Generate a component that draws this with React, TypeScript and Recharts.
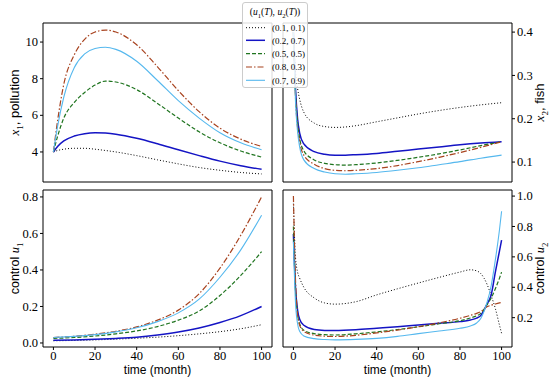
import { LineChart, Line, XAxis, YAxis } from "recharts";

// legend / series styling, same order everywhere
const seriesNames = ["(0.1, 0.1)", "(0.2, 0.7)", "(0.5, 0.5)", "(0.8, 0.3)", "(0.7, 0.9)"];
const seriesColors = ["#000000", "#1414c4", "#1f741f", "#a8431f", "#55b8ee"];
const seriesDash = ["1 2", undefined, "4 2", "6 2 1.5 2", undefined];
const seriesWidth = [1, 1.5, 1.2, 1.2, 1.1];

const xTicks = [0, 20, 40, 60, 80, 100];

// x1, pollution
const tPollution = [0, 2, 5, 10, 15, 20, 25, 30, 40, 50, 60, 70, 80, 90, 100];
const pol_01_01 = [4, 4.08, 4.15, 4.2, 4.2, 4.15, 4.08, 4.0, 3.8, 3.57, 3.35, 3.15, 3.0, 2.88, 2.8];
const pol_02_07 = [4, 4.3, 4.6, 4.87, 5.0, 5.05, 5.03, 4.97, 4.75, 4.45, 4.12, 3.8, 3.5, 3.25, 3.05];
const pol_05_05 = [4, 4.85, 5.85, 6.7, 7.25, 7.65, 7.87, 7.82, 7.4, 6.65, 5.85, 5.1, 4.5, 4.05, 3.72];
const pol_08_03 = [4, 5.7, 7.7, 9.3, 10.15, 10.55, 10.65, 10.55, 9.85, 8.65, 7.35, 6.2, 5.3, 4.7, 4.3];
const pol_07_09 = [4, 5.4, 7.0, 8.6, 9.35, 9.65, 9.72, 9.6, 8.95, 7.9, 6.8, 5.85, 5.05, 4.5, 4.12];

// x2, fish
const tFish = [0, 1, 2, 3, 5, 10, 15, 20, 25, 30, 40, 50, 60, 70, 80, 90, 100];
const fish_01_01 = [0.4, 0.31, 0.27, 0.245, 0.215, 0.19, 0.182, 0.18, 0.181, 0.184, 0.193, 0.202, 0.211, 0.219, 0.226, 0.232, 0.237];
const fish_02_07 = [0.4, 0.27, 0.2, 0.167, 0.142, 0.124, 0.118, 0.116, 0.116, 0.117, 0.12, 0.125, 0.13, 0.135, 0.14, 0.144, 0.147];
const fish_05_05 = [0.4, 0.26, 0.19, 0.155, 0.126, 0.105, 0.097, 0.094, 0.093, 0.094, 0.098, 0.104, 0.111, 0.119, 0.128, 0.138, 0.147];
const fish_08_03 = [0.4, 0.25, 0.18, 0.146, 0.116, 0.095, 0.085, 0.081, 0.08, 0.081, 0.085, 0.092, 0.101, 0.111, 0.122, 0.134, 0.147];
const fish_07_09 = [0.4, 0.24, 0.17, 0.135, 0.105, 0.085, 0.077, 0.073, 0.072, 0.073, 0.076, 0.081, 0.087, 0.094, 0.101, 0.109, 0.116];

// control u1
const tU1 = [0, 10, 20, 30, 40, 50, 60, 70, 80, 90, 100];
const u1_01_01 = [0.012, 0.014, 0.017, 0.021, 0.026, 0.032, 0.04, 0.05, 0.062, 0.078, 0.1];
const u1_02_07 = [0.015, 0.017, 0.02, 0.025, 0.032, 0.044, 0.06, 0.082, 0.112, 0.15, 0.2];
const u1_05_05 = [0.025, 0.03, 0.038, 0.05, 0.066, 0.09, 0.125, 0.175, 0.26, 0.37, 0.5];
const u1_08_03 = [0.03, 0.037, 0.048, 0.064, 0.088, 0.125, 0.18, 0.27, 0.41, 0.59, 0.8];
const u1_07_09 = [0.03, 0.036, 0.046, 0.061, 0.083, 0.117, 0.165, 0.24, 0.36, 0.51, 0.7];

// control u2
const tU2 = [0, 1, 2, 3, 5, 10, 15, 20, 30, 40, 50, 60, 70, 80, 85, 88, 90, 93, 95, 97, 99, 100];
const u2_01_01 = [0.95, 0.6, 0.5, 0.46, 0.4, 0.33, 0.297, 0.289, 0.305, 0.35, 0.39, 0.428, 0.465, 0.5, 0.515, 0.508, 0.49, 0.42, 0.345, 0.26, 0.15, 0.097];
const u2_02_07 = [0.75, 0.4, 0.25, 0.19, 0.15, 0.122, 0.116, 0.115, 0.12, 0.13, 0.14, 0.152, 0.163, 0.174, 0.185, 0.197, 0.215, 0.29, 0.35, 0.5, 0.64, 0.71];
const u2_05_05 = [0.8, 0.38, 0.22, 0.16, 0.118, 0.095, 0.088, 0.086, 0.094, 0.106, 0.122, 0.14, 0.16, 0.18, 0.198, 0.212, 0.228, 0.285, 0.33, 0.39, 0.46, 0.5];
const u2_08_03 = [1.0, 0.45, 0.22, 0.15, 0.11, 0.085, 0.078, 0.076, 0.084, 0.1, 0.118, 0.14, 0.166, 0.196, 0.215, 0.228, 0.24, 0.272, 0.282, 0.29, 0.297, 0.3];
const u2_07_09 = [0.7, 0.3, 0.16, 0.11, 0.08, 0.062, 0.056, 0.054, 0.057, 0.064, 0.077, 0.095, 0.112, 0.13, 0.145, 0.165, 0.195, 0.3, 0.41, 0.58, 0.78, 0.9];

const build = (t: number[], cols: number[][]) =>
  t.map((v, i) => {
    const row: Record<string, number> = { t: v };
    cols.forEach((c, k) => (row["s" + k] = c[i]));
    return row;
  });

const pollutionData = build(tPollution, [pol_01_01, pol_02_07, pol_05_05, pol_08_03, pol_07_09]);
const fishData = build(tFish, [fish_01_01, fish_02_07, fish_05_05, fish_08_03, fish_07_09]);
const u1Data = build(tU1, [u1_01_01, u1_02_07, u1_05_05, u1_08_03, u1_07_09]);
const u2Data = build(tU2, [u2_01_01, u2_02_07, u2_05_05, u2_08_03, u2_07_09]);

const SERIF = "Liberation Serif";
const SANS = "Liberation Sans";

// tick label drawn as plain serif text so the font is certain
function makeTick(fmt: (v: number) => string) {
  return (props: any) => {
    const { x, y, textAnchor, verticalAnchor, payload } = props;
    const dy = verticalAnchor === "start" ? "0.75em" : "0.33em";
    return (
      <text x={x} y={y} dy={dy} textAnchor={textAnchor} fontFamily={SERIF} fontSize={12.5} fill="#000">
        {fmt(payload.value)}
      </text>
    );
  };
}

interface PanelProps {
  left: number;
  top: number;
  width: number;
  height: number;
  margin: { top: number; right: number; bottom: number; left: number };
  data: Record<string, number>[];
  yDomain: [number, number];
  yTicks: number[];
  yFmt: (v: number) => string;
  ySide: "left" | "right";
  yWidth: number;
  xLabels: boolean;
  xHeight: number;
}

function Panel(p: PanelProps) {
  const mirror = p.ySide === "left" ? "right" : "left";
  return (
    <div style={{ position: "absolute", left: p.left, top: p.top }}>
      <LineChart width={p.width} height={p.height} data={p.data} margin={p.margin}>
        <XAxis
          xAxisId="b"
          dataKey="t"
          type="number"
          domain={[-5, 105]}
          ticks={xTicks}
          allowDataOverflow
          orientation="bottom"
          height={p.xHeight}
          stroke="#000"
          tickSize={p.xLabels ? 3 : -3}
          tickMargin={1}
          tick={p.xLabels ? makeTick(fmt0) : false}
        />
        <XAxis
          xAxisId="t"
          dataKey="t"
          type="number"
          domain={[-5, 105]}
          ticks={xTicks}
          allowDataOverflow
          orientation="top"
          height={1}
          stroke="#000"
          tickSize={-3}
          tick={false}
        />
        <YAxis
          yAxisId="m"
          type="number"
          domain={p.yDomain}
          ticks={p.yTicks}
          allowDataOverflow
          orientation={p.ySide}
          width={p.yWidth}
          stroke="#000"
          tickSize={3}
          tickMargin={2}
          tick={makeTick(p.yFmt)}
        />
        <YAxis
          yAxisId="o"
          type="number"
          domain={p.yDomain}
          ticks={p.yTicks}
          allowDataOverflow
          orientation={mirror}
          width={1}
          stroke="#000"
          tickSize={-3}
          tick={false}
        />
        {seriesNames.map((n, k) => (
          <Line
            key={n}
            xAxisId="b"
            yAxisId="m"
            type="monotone"
            dataKey={"s" + k}
            stroke={seriesColors[k]}
            strokeWidth={seriesWidth[k]}
            strokeDasharray={seriesDash[k]}
            dot={false}
            isAnimationActive={false}
          />
        ))}
      </LineChart>
    </div>
  );
}

function fmt1(v: number) {
  return v.toFixed(1);
}
function fmt0(v: number) {
  return String(v);
}

// piece of a math-ish label: [text, font, italic, subscript]
type Piece = [string, string, boolean, boolean];

function spans(parts: Piece[], size: number) {
  let off = 0;
  return parts.map(([txt, font, it, sub], i) => {
    const want = sub ? size * 0.28 : 0;
    const dy = want - off;
    off = want;
    return (
      <tspan
        key={i}
        fontFamily={font}
        fontStyle={it ? "italic" : "normal"}
        fontSize={sub ? size * 0.7 : size}
        dy={dy}
      >
        {txt}
      </tspan>
    );
  });
}

function Titles() {
  return (
    <svg width={550} height={387} style={{ position: "absolute", left: 0, top: 0, pointerEvents: "none" }}>
      <g fontFamily={SANS} fontSize={12} fill="#000" textAnchor="middle">
        <text transform="translate(19,102.5) rotate(-90)">
          {spans([["x", SERIF, true, false], ["1", SERIF, false, true], [", pollution", SANS, false, false]], 13)}
        </text>
        <text transform="translate(19,268.5) rotate(-90)">
          {spans([["control ", SANS, false, false], ["u", SERIF, true, false], ["1", SERIF, false, true]], 12.5)}
        </text>
        <text transform="translate(544,102.5) rotate(-90)">
          {spans([["x", SERIF, true, false], ["2", SERIF, false, true], [", fish", SANS, false, false]], 13)}
        </text>
        <text transform="translate(544,268.5) rotate(-90)">
          {spans([["control ", SANS, false, false], ["u", SERIF, true, false], ["2", SERIF, false, true]], 12.5)}
        </text>
        <text x={157.5} y={374}>time (month)</text>
        <text x={397.5} y={374}>time (month)</text>
      </g>
    </svg>
  );
}

function LegendBox() {
  const rows = [24.7, 37.3, 50.7, 64, 77.3];
  return (
    <div
      style={{
        position: "absolute",
        left: 242,
        top: 2,
        width: 66,
        height: 86,
        boxSizing: "border-box",
        border: "1px solid #cccccc",
        borderRadius: 3,
        background: "rgba(255,255,255,0.85)",
      }}
    >
      <svg width={64} height={84} style={{ position: "absolute", left: 0, top: 0 }}>
        <text x={32} y={12} textAnchor="middle" fill="#000">
          {spans(
            [
              ["(", SERIF, false, false],
              ["u", SERIF, true, false],
              ["1", SERIF, false, true],
              ["(", SERIF, false, false],
              ["T", SERIF, true, false],
              ["), ", SERIF, false, false],
              ["u", SERIF, true, false],
              ["2", SERIF, false, true],
              ["(", SERIF, false, false],
              ["T", SERIF, true, false],
              ["))", SERIF, false, false],
            ],
            9.5
          )}
        </text>
        {seriesNames.map((n, k) => (
          <g key={n}>
            <line
              x1={3}
              x2={22}
              y1={rows[k]}
              y2={rows[k]}
              stroke={seriesColors[k]}
              strokeWidth={seriesWidth[k]}
              strokeDasharray={seriesDash[k]}
            />
            <text x={29} y={rows[k] + 3.2} fontFamily={SERIF} fontSize={9} fill="#000">
              {n}
            </text>
          </g>
        ))}
      </svg>
    </div>
  );
}

export default function App() {
  return (
    <div style={{ position: "absolute", left: 0, top: 0, width: 550, height: 387, background: "#fff" }}>
      <Panel
        left={0}
        top={0}
        width={280}
        height={190}
        margin={{ top: 22, right: 7, bottom: 2, left: 0 }}
        data={pollutionData}
        yDomain={[2.36, 11.04]}
        yTicks={[4, 6, 8, 10]}
        yFmt={fmt0}
        ySide="left"
        yWidth={43}
        xLabels={false}
        xHeight={6}
      />
      <Panel
        left={275}
        top={0}
        width={275}
        height={190}
        margin={{ top: 22, right: 0, bottom: 2, left: 7 }}
        data={fishData}
        yDomain={[0.054, 0.421]}
        yTicks={[0.1, 0.2, 0.3, 0.4]}
        yFmt={fmt1}
        ySide="right"
        yWidth={38}
        xLabels={false}
        xHeight={6}
      />
      <Panel
        left={0}
        top={185}
        width={280}
        height={202}
        margin={{ top: 4, right: 7, bottom: 0, left: 0 }}
        data={u1Data}
        yDomain={[-0.022, 0.838]}
        yTicks={[0, 0.2, 0.4, 0.6, 0.8]}
        yFmt={fmt1}
        ySide="left"
        yWidth={43}
        xLabels={true}
        xHeight={40}
      />
      <Panel
        left={275}
        top={185}
        width={275}
        height={202}
        margin={{ top: 4, right: 0, bottom: 0, left: 7 }}
        data={u2Data}
        yDomain={[0.007, 1.04]}
        yTicks={[0.2, 0.4, 0.6, 0.8, 1.0]}
        yFmt={fmt1}
        ySide="right"
        yWidth={38}
        xLabels={true}
        xHeight={40}
      />
      <Titles />
      <LegendBox />
    </div>
  );
}
